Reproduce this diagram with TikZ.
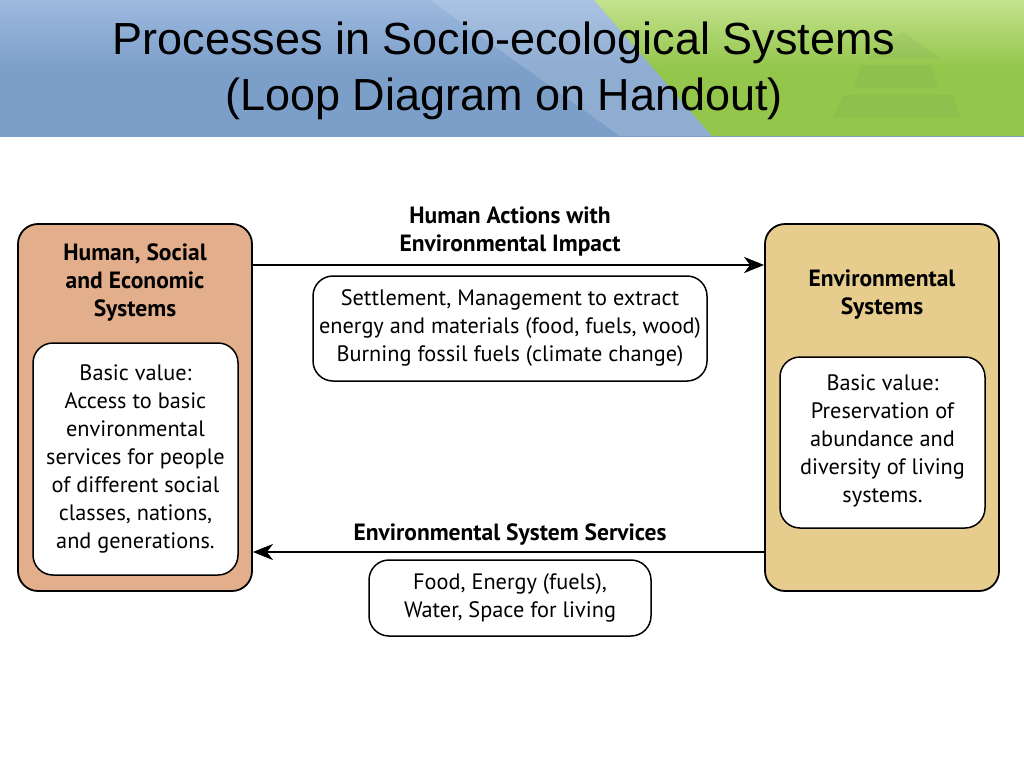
\documentclass[tikz,border=0pt]{standalone}
\usepackage{fontspec}
\setmainfont{PT Sans}
\newfontfamily\titlefont{Liberation Sans}
\usetikzlibrary{arrows.meta,shadings}
\definecolor{humanfill}{HTML}{E3AE8B}
\definecolor{envfill}{HTML}{E6CD8E}
\definecolor{bluetop}{HTML}{9DB9DE}
\definecolor{bluebot}{HTML}{7C9FCA}
\definecolor{greentop}{HTML}{C4E28E}
\definecolor{greenbot}{HTML}{93C64B}
\definecolor{pyramid}{HTML}{7A9A55}
\tikzset{
  outerbox/.style={draw=black, line width=1.8pt, rounded corners=20pt, minimum width=234pt, minimum height=367pt},
  innerbox/.style={draw=black, fill=white, line width=1.5pt, rounded corners=20pt, minimum width=205pt, inner sep=0pt},
  labelbox/.style={draw=black, fill=white, line width=1.5pt, rounded corners=20pt, inner sep=0pt},
  heading/.style={font=\bfseries\fontsize{23.5}{28}\selectfont, align=center, inner sep=0pt},
  bodytext/.style={font=\fontsize{22.3}{28}\selectfont, align=center, inner sep=0pt},
  flow/.style={line width=2.8pt, -{Stealth[length=20pt,width=16pt,inset=6pt]}}
}
\begin{document}
\begin{tikzpicture}[x=1pt,y=-1pt]
\useasboundingbox (0,0) rectangle (1024,768);
\fill[white] (0,0) rectangle (1024,768);
% header band
\shade[top color=bluetop, bottom color=bluebot, middle color=bluebot] (0,0) rectangle (1024,136);
\fill[white, opacity=0.15] (430,0) -- (594,0) -- (712,136) -- (620,136) -- cycle;
\shade[top color=greentop, bottom color=greenbot, middle color=greenbot] (594,0) -- (1024,0) -- (1024,136) -- (712,136) -- cycle;
\fill[pyramid, opacity=0.15] (900,33) -- (905,33) -- (940,58) -- (868,58) -- cycle;
\fill[pyramid, opacity=0.15] (862,65) -- (930,65) -- (938,88) -- (853,88) -- cycle;
\fill[pyramid, opacity=0.15] (843,95) -- (953,95) -- (960,118) -- (833,118) -- cycle;
\node[font=\titlefont\fontsize{45}{56}\selectfont, align=center, inner sep=0pt] (title) at (504,71)
  {Processes in Socio-ecological Systems\\(Loop Diagram on Handout)};
% left system
\node[outerbox, fill=humanfill] (hum) at (135,407.5) {};
\node[heading] (humt) at (135,283) {Human, Social\\and Economic\\Systems};
\node[innerbox, minimum height=232pt] (humv) at (135.5,459) {};
\node[bodytext] (humvt) at (135.5,459) {Basic value:\\Access to basic\\environmental\\services for people\\of different social\\classes, nations,\\and generations.};
% right system
\node[outerbox, fill=envfill] (env) at (882,407.5) {};
\node[heading] (envt) at (882,295) {Environmental\\Systems};
\node[innerbox, minimum height=171pt] (envv) at (882.5,442.5) {};
\node[bodytext] (envvt) at (882.5,441) {Basic value:\\Preservation of\\abundance and\\diversity of living\\systems.};
% top flow
\coordinate (ty) at (0,265);
\draw[flow] (hum.east |- ty) -- (env.west |- ty);
\node[heading] (actt) at (510,231) {Human Actions with\\Environmental Impact};
\node[labelbox, minimum width=394pt, minimum height=105pt] (actb) at (510,328.5) {};
\node[bodytext] (actbt) at (510,328.5) {Settlement, Management to extract\\energy and materials (food, fuels, wood)\\Burning fossil fuels (climate change)};
% bottom flow
\coordinate (by) at (0,552);
\draw[flow] (env.west |- by) -- (hum.east |- by);
\node[heading] (sert) at (510,535) {Environmental System Services};
\node[labelbox, minimum width=282pt, minimum height=76pt] (serb) at (510,598) {};
\node[bodytext] (serbt) at (510,597.5) {Food, Energy (fuels),\\Water, Space for living};
\end{tikzpicture}
\end{document}
